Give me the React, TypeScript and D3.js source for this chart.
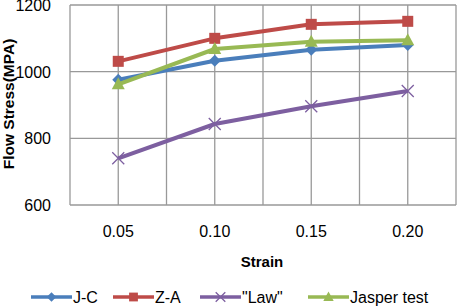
import React from "react";
import * as d3 from "d3";

const categories = ["0.05", "0.10", "0.15", "0.20"];
const yTicks = [600, 800, 1000, 1200];

const seriesNames = ["J-C", "Z-A", "\"Law\"", "Jasper test"];
const jc = [976, 1033, 1066, 1080];
const za = [1031, 1100, 1142, 1151];
const law = [740, 843, 896, 942];
const jasper = [962, 1068, 1090, 1094];

const colors = ["#4A7EBB", "#BE4B48", "#7D5FA0", "#98B954"];
const markers = ["diamond", "square", "cross", "triangle"];

const width = 459;
const height = 308;
const margin = { top: 5, right: 3, bottom: 103, left: 70 };
const font = "'Liberation Sans', Arial, sans-serif";

function Marker({ type, x, y, color, s = 1 }: { type: string; x: number; y: number; color: string; s?: number }) {
  if (type === "diamond") {
    const r = 6 * s;
    return <path d={`M${x},${y - r}L${x + r},${y}L${x},${y + r}L${x - r},${y}Z`} fill={color} />;
  }
  if (type === "square") {
    const r = 5.5 * s;
    return <rect x={x - r} y={y - r} width={2 * r} height={2 * r} fill={color} />;
  }
  if (type === "triangle") {
    return <path d={`M${x},${y - 7 * s}L${x + 6.5 * s},${y + 5 * s}L${x - 6.5 * s},${y + 5 * s}Z`} fill={color} />;
  }
  const r = 6 * s;
  return (
    <path
      d={`M${x - r},${y - r}L${x + r},${y + r}M${x - r},${y + r}L${x + r},${y - r}`}
      stroke={color}
      strokeWidth={1.3}
      fill="none"
    />
  );
}

export default function App() {
  const series = [jc, za, law, jasper];

  const x = d3
    .scaleBand<string>()
    .domain(categories)
    .range([margin.left, width - margin.right]);
  const y = d3
    .scaleLinear()
    .domain([600, 1200])
    .range([height - margin.bottom, margin.top]);

  const bw = x.bandwidth();
  const vLines: number[] = [];
  categories.forEach((c) => {
    vLines.push(x(c)!);
    vLines.push(x(c)! + bw / 2);
  });
  vLines.push(width - margin.right);

  const line = d3
    .line<number>()
    .x((_, i) => x(categories[i])! + bw / 2)
    .y((d) => y(d));

  const legendX = [31, 113, 200, 308];
  const legendY = 297;

  return (
    <div style={{ position: "absolute", left: 0, top: 0 }}>
      <svg width={width} height={height} style={{ display: "block", background: "#fff" }}>
        {/* grid */}
        {yTicks.map((t) => (
          <line key={t} x1={margin.left} x2={width - margin.right} y1={y(t)} y2={y(t)} stroke="#999" strokeWidth={1.3} />
        ))}
        {vLines.map((v, i) => (
          <line key={i} x1={v} x2={v} y1={margin.top} y2={height - margin.bottom} stroke="#999" strokeWidth={1.3} />
        ))}

        {/* y ticks */}
        {yTicks.map((t) => (
          <text key={t} x={51} y={y(t) + 6} textAnchor="end" fontFamily={font} fontSize={16} fill="#000">
            {t}
          </text>
        ))}

        {/* x ticks */}
        {categories.map((c) => (
          <text key={c} x={x(c)! + bw / 2} y={237} textAnchor="middle" fontFamily={font} fontSize={16} fill="#000">
            {c}
          </text>
        ))}

        <text x={262} y={267} textAnchor="middle" fontFamily={font} fontSize={15} fontWeight="bold">
          Strain
        </text>
        <text
          transform={`translate(14 ${104}) rotate(-90)`}
          textAnchor="middle"
          fontFamily={font}
          fontSize={15.5}
          fontWeight="bold"
        >
          Flow Stress(MPA)
        </text>

        {/* series */}
        {series.map((s, si) => (
          <g key={si}>
            <path d={line(s) || ""} fill="none" stroke={colors[si]} strokeWidth={4} strokeLinejoin="round" />
            {s.map((v, i) => (
              <Marker key={i} type={markers[si]} x={x(categories[i])! + bw / 2} y={y(v)} color={colors[si]} />
            ))}
          </g>
        ))}

        {/* legend */}
        {seriesNames.map((n, i) => (
          <g key={n}>
            <line x1={legendX[i]} x2={legendX[i] + 41} y1={legendY} y2={legendY} stroke={colors[i]} strokeWidth={3.5} />
            <Marker type={markers[i]} x={legendX[i] + 20.5} y={legendY} color={colors[i]} s={0.8} />
            <text x={legendX[i] + 42} y={legendY + 6} fontFamily={font} fontSize={16}>
              {n}
            </text>
          </g>
        ))}
      </svg>
    </div>
  );
}
